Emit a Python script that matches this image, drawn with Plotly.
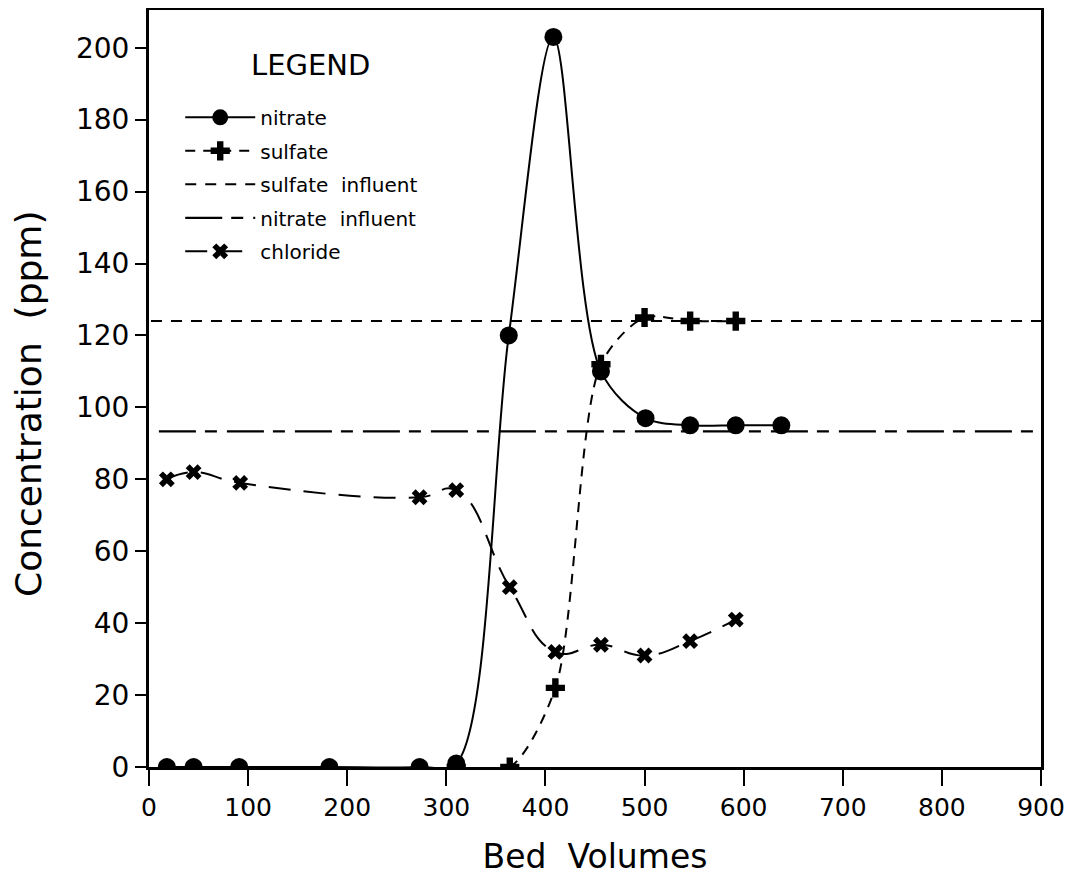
import plotly.graph_objects as go

# bed volumes / concentrations (ppm)
nitrate_bv = [18, 45, 91, 182, 273, 310, 363, 408, 456, 501, 546, 592, 638]
nitrate_ppm = [0, 0, 0, 0, 0, 1, 120, 203, 110, 97, 95, 95, 95]

sulfate_bv = [310, 364, 410, 456, 500, 546, 592]
sulfate_ppm = [0, 0, 22, 112, 125, 124, 124]

chloride_bv = [18, 45, 92, 273, 310, 364, 410, 456, 500, 546, 592]
chloride_ppm = [80, 82, 79, 75, 77, 50, 32, 34, 31, 35, 41]

sulfate_influent_bv = [2, 900]
sulfate_influent_ppm = [124, 124]
nitrate_influent_bv = [10, 900]
nitrate_influent_ppm = [93.3, 93.3]

x_ticks = list(range(0, 901, 100))
y_ticks = list(range(0, 201, 20))

fig = go.Figure()

fig.add_trace(go.Scatter(
    x=nitrate_bv, y=nitrate_ppm, name='nitrate', mode='lines+markers', legendgroup='a',
    line=dict(color='black', width=2, shape='spline', smoothing=0.9),
    marker=dict(symbol='circle', size=18, color='black')))

fig.add_trace(go.Scatter(
    x=sulfate_bv, y=sulfate_ppm, name='sulfate', mode='lines+markers', legendgroup='b',
    line=dict(color='black', width=2, shape='spline', smoothing=0.8, dash='10px,8px'),
    marker=dict(symbol='cross', size=16, color='black')))

fig.add_trace(go.Scatter(
    x=sulfate_influent_bv, y=sulfate_influent_ppm, name='sulfate  influent', mode='lines',
    legendgroup='c', line=dict(color='black', width=2, dash='11px,9px')))

fig.add_trace(go.Scatter(
    x=nitrate_influent_bv, y=nitrate_influent_ppm, name='nitrate  influent', mode='lines',
    legendgroup='d', line=dict(color='black', width=2.2, dash='37px,9px,12px,10px')))

fig.add_trace(go.Scatter(
    x=chloride_bv, y=chloride_ppm, name='chloride', mode='lines+markers', legendgroup='e',
    line=dict(color='black', width=2, shape='spline', smoothing=1.3, dash='22px,13px'),
    marker=dict(symbol='x', size=14, color='black')))

# legend heading sits well above the entries, so it is a separate annotation
fig.add_annotation(text='LEGEND', xref='paper', yref='paper', x=0.1805, y=0.927,
                   xanchor='center', yanchor='middle', showarrow=False,
                   font=dict(family='DejaVu Sans', size=29, color='black'))

# y title sits a bit below the plot centre in the original
fig.add_annotation(text='Concentration  (ppm)', xref='paper', yref='paper',
                   x=-0.1357, y=0.4795, xanchor='center', yanchor='middle',
                   textangle=-90, showarrow=False,
                   font=dict(family='DejaVu Sans', size=36, color='black'))

# the page body has an 8px margin, so the figure is sized to fit inside the window
fig.update_layout(
    width=1068, height=868,
    margin=dict(l=141, r=35, t=2, b=109),
    paper_bgcolor='white', plot_bgcolor='white',
    font=dict(family='DejaVu Sans', color='black'),
    showlegend=True,
    legend=dict(
        x=0.035, y=0.884, xanchor='left', yanchor='top',
        bgcolor='rgba(0,0,0,0)',
        font=dict(family='DejaVu Sans', size=20, color='black'),
        itemwidth=70, tracegroupgap=4.5),
    xaxis=dict(
        range=[0, 900], tickvals=x_ticks, ticks='outside', ticklen=16, tickwidth=2,
        tickcolor='black', showline=True, linecolor='black', linewidth=3, mirror=True,
        showgrid=False, zeroline=False, automargin=False,
        tickfont=dict(family='DejaVu Sans', size=25),
        title=dict(text='Bed  Volumes', standoff=24,
                   font=dict(family='DejaVu Sans', size=33))),
    yaxis=dict(
        range=[0, 210.5], tickvals=y_ticks, ticks='outside', ticklen=11, tickwidth=2,
        tickcolor='black', showline=True, linecolor='black', linewidth=3, mirror=True,
        showgrid=False, zeroline=False, automargin=False,
        tickfont=dict(family='DejaVu Sans', size=28)),
)

fig.write_html("out.html")
